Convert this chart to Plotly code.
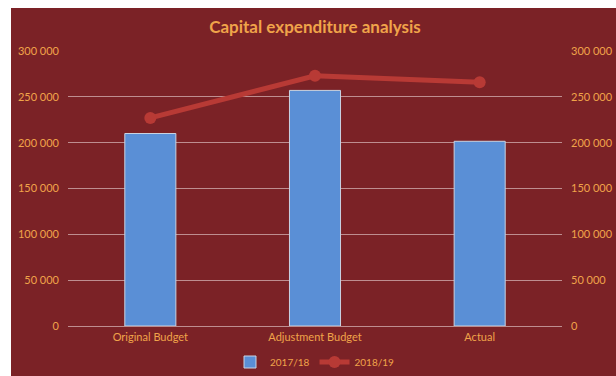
import plotly.graph_objects as go

categories = ["Original Budget", "Adjustment Budget", "Actual"]
series_2017 = [210000, 257000, 201500]
series_2018 = [227000, 273000, 266000]
y_ticks = [0, 50000, 100000, 150000, 200000, 250000, 300000]

BG = "#7B2226"
TXT = "#F0A44A"
GRID = "rgba(235,215,215,0.6)"
FONT = "Lato"

fig = go.Figure()
fig.add_trace(go.Bar(
    x=categories, y=series_2017, name="2017/18",
    marker=dict(color="#5A8FD6", line=dict(color="#C9D3E2", width=1)),
    width=0.31,
))
fig.add_trace(go.Scatter(
    x=categories, y=series_2018, name="2018/19", yaxis="y2",
    mode="lines+markers",
    line=dict(color="#B83A35", width=5),
    marker=dict(color="#B83A35", size=12),
))

# plot area spans x 68..562 px and y 51..326 px
L, R, T, B = 68, 54, 51, 50
W, H = 616, 376
pw, ph = W - L - R, H - T - B
fig.add_shape(
    type="rect", xref="paper", yref="paper", layer="below",
    x0=(11 - L) / pw, x1=(W - L) / pw,
    y0=-B / ph, y1=(H - B - 8) / ph,
    fillcolor=BG, line=dict(width=0),
)

axis_common = dict(
    range=[0, 300000], tickvals=y_ticks, tickformat=",d",
    tickfont=dict(family=FONT, size=11, color=TXT),
    showline=False, ticks="",
)
fig.update_layout(
    width=W, height=H,
    margin=dict(l=L, r=R, t=T, b=B, pad=0, autoexpand=False),
    paper_bgcolor="white", plot_bgcolor="rgba(0,0,0,0)",
    separators=". ",
    title=dict(text="<b>Capital expenditure analysis</b>", x=(315 - L) / pw, xref="paper",
               xanchor="center", y=1 - 27 / H, yanchor="middle",
               font=dict(family=FONT, size=17, color=TXT)),
    xaxis=dict(tickfont=dict(family=FONT, size=11, color=TXT), showgrid=False,
               showline=False, ticks="", ticklen=0, ticklabelstandoff=3),
    yaxis=dict(**axis_common, showgrid=True, gridcolor=GRID, gridwidth=1,
               zeroline=True, zerolinecolor=GRID, zerolinewidth=1, ticklabelstandoff=8),
    yaxis2=dict(**axis_common, overlaying="y", side="right", showgrid=False,
                zeroline=False, ticklabelstandoff=8),
    bargap=0.69,
    showlegend=True,
    legend=dict(orientation="h", x=(230 - L) / pw, xanchor="left",
                y=-(362 - 326) / ph, yanchor="middle",
                font=dict(family=FONT, size=10, color=TXT), bgcolor="rgba(0,0,0,0)",
                itemwidth=30, tracegroupgap=0),
)

fig.write_html("out.html")
